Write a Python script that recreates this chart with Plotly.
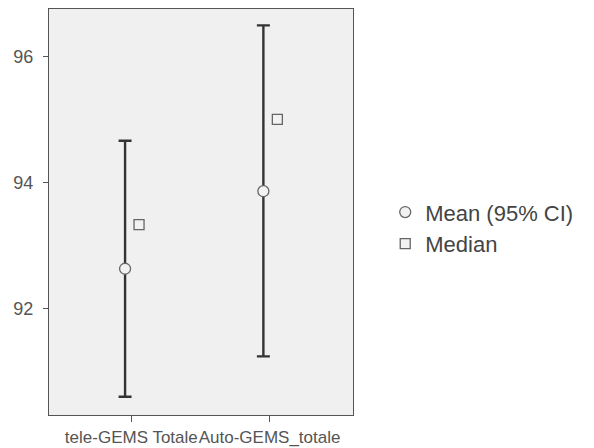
import plotly.graph_objects as go

categories = ["tele-GEMS Totale", "Auto-GEMS_totale"]
means = [92.63, 93.86]
ci_lower = [90.60, 91.24]
ci_upper = [94.66, 96.49]
medians = [93.33, 95.00]
y_ticks = [92, 94, 96]

idx = list(range(len(categories)))
mean_off = -0.045
med_off = 0.056

fig = go.Figure()
fig.add_trace(go.Scatter(
    x=[i + mean_off for i in idx], y=means, mode="markers", name="Mean (95% CI)",
    marker=dict(symbol="circle", size=11, color="#f2f2f2", line=dict(color="#666666", width=1.3)),
    error_y=dict(type="data", symmetric=False,
                 array=[u - m for u, m in zip(ci_upper, means)],
                 arrayminus=[m - l for m, l in zip(means, ci_lower)],
                 color="#333333", thickness=2.4, width=6.5),
))
fig.add_trace(go.Scatter(
    x=[i + med_off for i in idx], y=medians, mode="markers", name="Median",
    marker=dict(symbol="square", size=10, color="#f2f2f2", line=dict(color="#666666", width=1.3)),
))

fig.update_layout(
    width=594, height=448,
    margin=dict(l=49, r=241, t=9, b=33, autoexpand=False),
    paper_bgcolor="white", plot_bgcolor="#f0f0f0",
    font=dict(family="Liberation Sans, Arial, sans-serif", color="#555555", size=17),
    showlegend=True,
    legend=dict(x=1.106, y=0.46, xanchor="left", yanchor="middle",
                font=dict(size=22, color="#444444"), bgcolor="rgba(0,0,0,0)",
                tracegroupgap=0),
)
fig.update_xaxes(range=[-0.595, 1.603], tickvals=idx, ticktext=categories,
                 showgrid=False, zeroline=False, showline=True, mirror=True,
                 linecolor="#555555", linewidth=1.2, ticks="outside", ticklen=6,
                 tickcolor="#555555", tickfont=dict(size=17), ticklabelstandoff=0,
                 tickangle=0, automargin=False)
fig.update_yaxes(range=[90.31, 96.75], tickvals=y_ticks,
                 showgrid=False, zeroline=False, showline=True, mirror=True,
                 linecolor="#555555", linewidth=1.2, ticks="outside", ticklen=5,
                 tickcolor="#555555", tickfont=dict(size=18), ticklabelstandoff=6,
                 automargin=False)

fig.write_html("out.html")
